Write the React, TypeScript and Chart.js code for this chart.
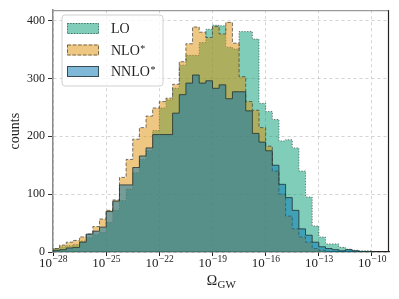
import React, { useEffect, useRef } from "react";
import { Chart, registerables } from "chart.js";

Chart.register(...registerables);

// ---- data ----
const BIN_START = -28; // log10(Omega_GW) of first bin edge
const BIN_WIDTH = 0.375; // decades per bin

const LO_COUNTS = [6, 9, 11, 13, 19, 25, 30, 34, 51, 72, 89, 109, 137, 160, 175, 210, 249, 263, 283, 323, 340, 340, 362, 385, 392, 391, 354, 351, 381, 381, 368, 257, 243, 229, 192, 194, 180, 140, 95, 45, 26, 14, 14, 8, 5, 3, 2, 2, 0];
const NLO_COUNTS = [6, 12, 17, 20, 26, 31, 44, 57, 72, 90, 129, 160, 195, 215, 235, 249, 260, 266, 290, 329, 360, 389, 380, 371, 390, 377, 397, 361, 303, 260, 245, 215, 183, 140, 100, 62, 40, 26, 17, 6, 3, 1, 0, 0, 0, 0, 0, 0, 0];
const NNLO_COUNTS = [3, 4, 7, 8, 17, 31, 36, 43, 70, 88, 116, 116, 146, 166, 180, 203, 203, 203, 240, 272, 292, 306, 292, 296, 283, 289, 265, 277, 277, 244, 205, 190, 175, 150, 117, 94, 72, 40, 29, 17, 9, 6, 4, 2, 4, 2, 0, 0, 0];

const SERIES_LABELS = ["LO", "NLO*", "NNLO*"];
const X_TICK_EXPONENTS = [-28, -25, -22, -19, -16, -13, -10];
const Y_TICKS = [0, 100, 200, 300, 400];
const X_MIN = -28;
const X_MAX = -9.04;
const Y_MAX = 418;
const Y_TITLE = "counts";
const X_TITLE_MAIN = "Ω";
const X_TITLE_SUB = "GW";

// ---- styles ----
const FILLS = ["rgba(2,158,115,0.5)", "rgba(222,143,5,0.5)", "rgba(1,115,178,0.5)"];
const EDGES = ["rgba(50,50,50,0.65)", "rgba(50,50,50,0.65)", "rgba(30,40,40,0.75)"];
const DASHES = [[1.2, 1.6], [3.5, 1.8], []];
const FONT = '"Liberation Serif", "Times New Roman", serif';

function stepPoints(counts: number[]) {
  const pts: { x: number; y: number }[] = [{ x: BIN_START, y: 0 }];
  counts.forEach((c, i) => pts.push({ x: BIN_START + i * BIN_WIDTH, y: c }));
  pts.push({ x: BIN_START + counts.length * BIN_WIDTH, y: 0 });
  return pts;
}

const decorPlugin = {
  id: "decor",
  afterDraw(chart: any) {
    const ctx = chart.ctx as CanvasRenderingContext2D;
    const { left, right, top, bottom } = chart.chartArea;
    const xs = chart.scales.x;
    ctx.save();

    // top and right spines
    ctx.setLineDash([]);
    ctx.lineWidth = 1.2;
    ctx.strokeStyle = "#9a9a9a";
    ctx.beginPath();
    ctx.moveTo(left, top + 0.5);
    ctx.lineTo(right, top + 0.5);
    ctx.stroke();
    ctx.strokeStyle = "#222";
    ctx.beginPath();
    ctx.moveTo(right - 0.5, top);
    ctx.lineTo(right - 0.5, bottom);
    ctx.stroke();

    // x tick labels 10^n
    ctx.fillStyle = "#222";
    ctx.textAlign = "left";
    ctx.textBaseline = "alphabetic";
    X_TICK_EXPONENTS.forEach((e) => {
      const x = xs.getPixelForValue(e);
      const base = "10";
      const exp = (e < 0 ? "\u2212" : "") + Math.abs(e);
      ctx.font = `13px ${FONT}`;
      const wb = ctx.measureText(base).width;
      ctx.font = `9.5px ${FONT}`;
      const we = ctx.measureText(exp).width;
      const x0 = x - (wb + we) / 2;
      ctx.font = `13px ${FONT}`;
      ctx.fillText(base, x0, bottom + 14.5);
      ctx.font = `9.5px ${FONT}`;
      ctx.fillText(exp, x0 + wb + 0.5, bottom + 9.5);
    });

    // x title: Omega_GW
    ctx.font = `14px ${FONT}`;
    const wm = ctx.measureText(X_TITLE_MAIN).width;
    ctx.font = `11px ${FONT}`;
    const ws = ctx.measureText(X_TITLE_SUB).width;
    const cx = (left + right) / 2;
    const tx0 = cx - (wm + ws) / 2;
    ctx.font = `14px ${FONT}`;
    ctx.fillText(X_TITLE_MAIN, tx0, 285);
    ctx.font = `11px ${FONT}`;
    ctx.fillText(X_TITLE_SUB, tx0 + wm + 0.5, 288);

    // y title
    ctx.save();
    ctx.translate(15, (top + bottom) / 2);
    ctx.rotate(-Math.PI / 2);
    ctx.font = `14px ${FONT}`;
    ctx.textAlign = "center";
    ctx.textBaseline = "middle";
    ctx.fillText(Y_TITLE, 0, 0);
    ctx.restore();

    // legend
    const lx = 62, ly = 15, lw = 101, lh = 71, r = 3;
    ctx.beginPath();
    ctx.moveTo(lx + r, ly);
    ctx.lineTo(lx + lw - r, ly);
    ctx.quadraticCurveTo(lx + lw, ly, lx + lw, ly + r);
    ctx.lineTo(lx + lw, ly + lh - r);
    ctx.quadraticCurveTo(lx + lw, ly + lh, lx + lw - r, ly + lh);
    ctx.lineTo(lx + r, ly + lh);
    ctx.quadraticCurveTo(lx, ly + lh, lx, ly + lh - r);
    ctx.lineTo(lx, ly + r);
    ctx.quadraticCurveTo(lx, ly, lx + r, ly);
    ctx.closePath();
    ctx.fillStyle = "rgba(255,255,255,0.8)";
    ctx.fill();
    ctx.lineWidth = 1;
    ctx.strokeStyle = "#d0d0d0";
    ctx.stroke();

    SERIES_LABELS.forEach((label, i) => {
      const cy = 28.5 + i * 21.5;
      ctx.fillStyle = "#fff";
      ctx.fillRect(67, cy - 5.5, 32, 11);
      ctx.fillStyle = FILLS[i];
      ctx.fillRect(67, cy - 5.5, 32, 11);
      ctx.setLineDash(DASHES[i]);
      ctx.strokeStyle = EDGES[i];
      ctx.lineWidth = 1;
      ctx.strokeRect(67.5, cy - 5, 31, 10);
      ctx.setLineDash([]);
      const star = label.endsWith("*");
      const base = star ? label.slice(0, -1) : label;
      ctx.fillStyle = "#222";
      ctx.textAlign = "left";
      ctx.textBaseline = "alphabetic";
      ctx.font = `14px ${FONT}`;
      ctx.fillText(base, 111, cy + 4.8);
      if (star) {
        const w = ctx.measureText(base).width;
        ctx.font = `10px ${FONT}`;
        ctx.fillText("*", 111 + w + 0.5, cy + 1.5);
      }
    });

    ctx.restore();
  },
};

export default function App() {
  const ref = useRef<HTMLCanvasElement | null>(null);

  useEffect(() => {
    document.body.style.margin = "0";
    if (!ref.current) return;
    const series = [LO_COUNTS, NLO_COUNTS, NNLO_COUNTS];
    const chart = new Chart(ref.current, {
      type: "line",
      data: {
        datasets: series.map((counts, i) => ({
          label: SERIES_LABELS[i],
          data: stepPoints(counts),
          stepped: "before" as const,
          fill: "origin",
          backgroundColor: FILLS[i],
          borderColor: EDGES[i],
          borderWidth: 1,
          borderDash: DASHES[i],
          pointRadius: 0,
          order: 3 - i,
        })),
      },
      options: {
        animation: false,
        responsive: false,
        devicePixelRatio: 1,
        layout: { padding: { left: 0, right: 10, top: 8, bottom: 0 } },
        plugins: { legend: { display: false }, tooltip: { enabled: false } },
        scales: {
          x: {
            type: "linear",
            min: X_MIN,
            max: X_MAX,
            z: 1,
            afterBuildTicks: (s: any) => {
              s.ticks = X_TICK_EXPONENTS.map((v) => ({ value: v }));
            },
            afterFit: (s: any) => {
              s.height = 47;
            },
            ticks: { display: false },
            grid: {
              color: "rgba(190,190,190,0.85)",
              lineWidth: 0.8,
              tickLength: 4,
              tickColor: "#222",
              tickWidth: 1,
            },
            border: { color: "#222", width: 1.2, dash: [3, 3] },
          },
          y: {
            type: "linear",
            min: 0,
            max: Y_MAX,
            z: 1,
            afterBuildTicks: (s: any) => {
              s.ticks = Y_TICKS.map((v) => ({ value: v }));
            },
            afterFit: (s: any) => {
              s.width = 53;
            },
            ticks: {
              color: "#222",
              font: { family: FONT, size: 12 },
              padding: 3,
            },
            grid: {
              color: "rgba(190,190,190,0.85)",
              lineWidth: 0.8,
              tickLength: 5,
              tickColor: "#333",
              tickWidth: 1,
            },
            border: { color: "#8a8a8a", width: 1.5, dash: [3, 3] },
          },
        },
      },
      plugins: [decorPlugin],
    });
    return () => chart.destroy();
  }, []);

  return (
    <div style={{ width: 399, height: 299 }}>
      <canvas ref={ref} width={399} height={299} style={{ display: "block" }} />
    </div>
  );
}
